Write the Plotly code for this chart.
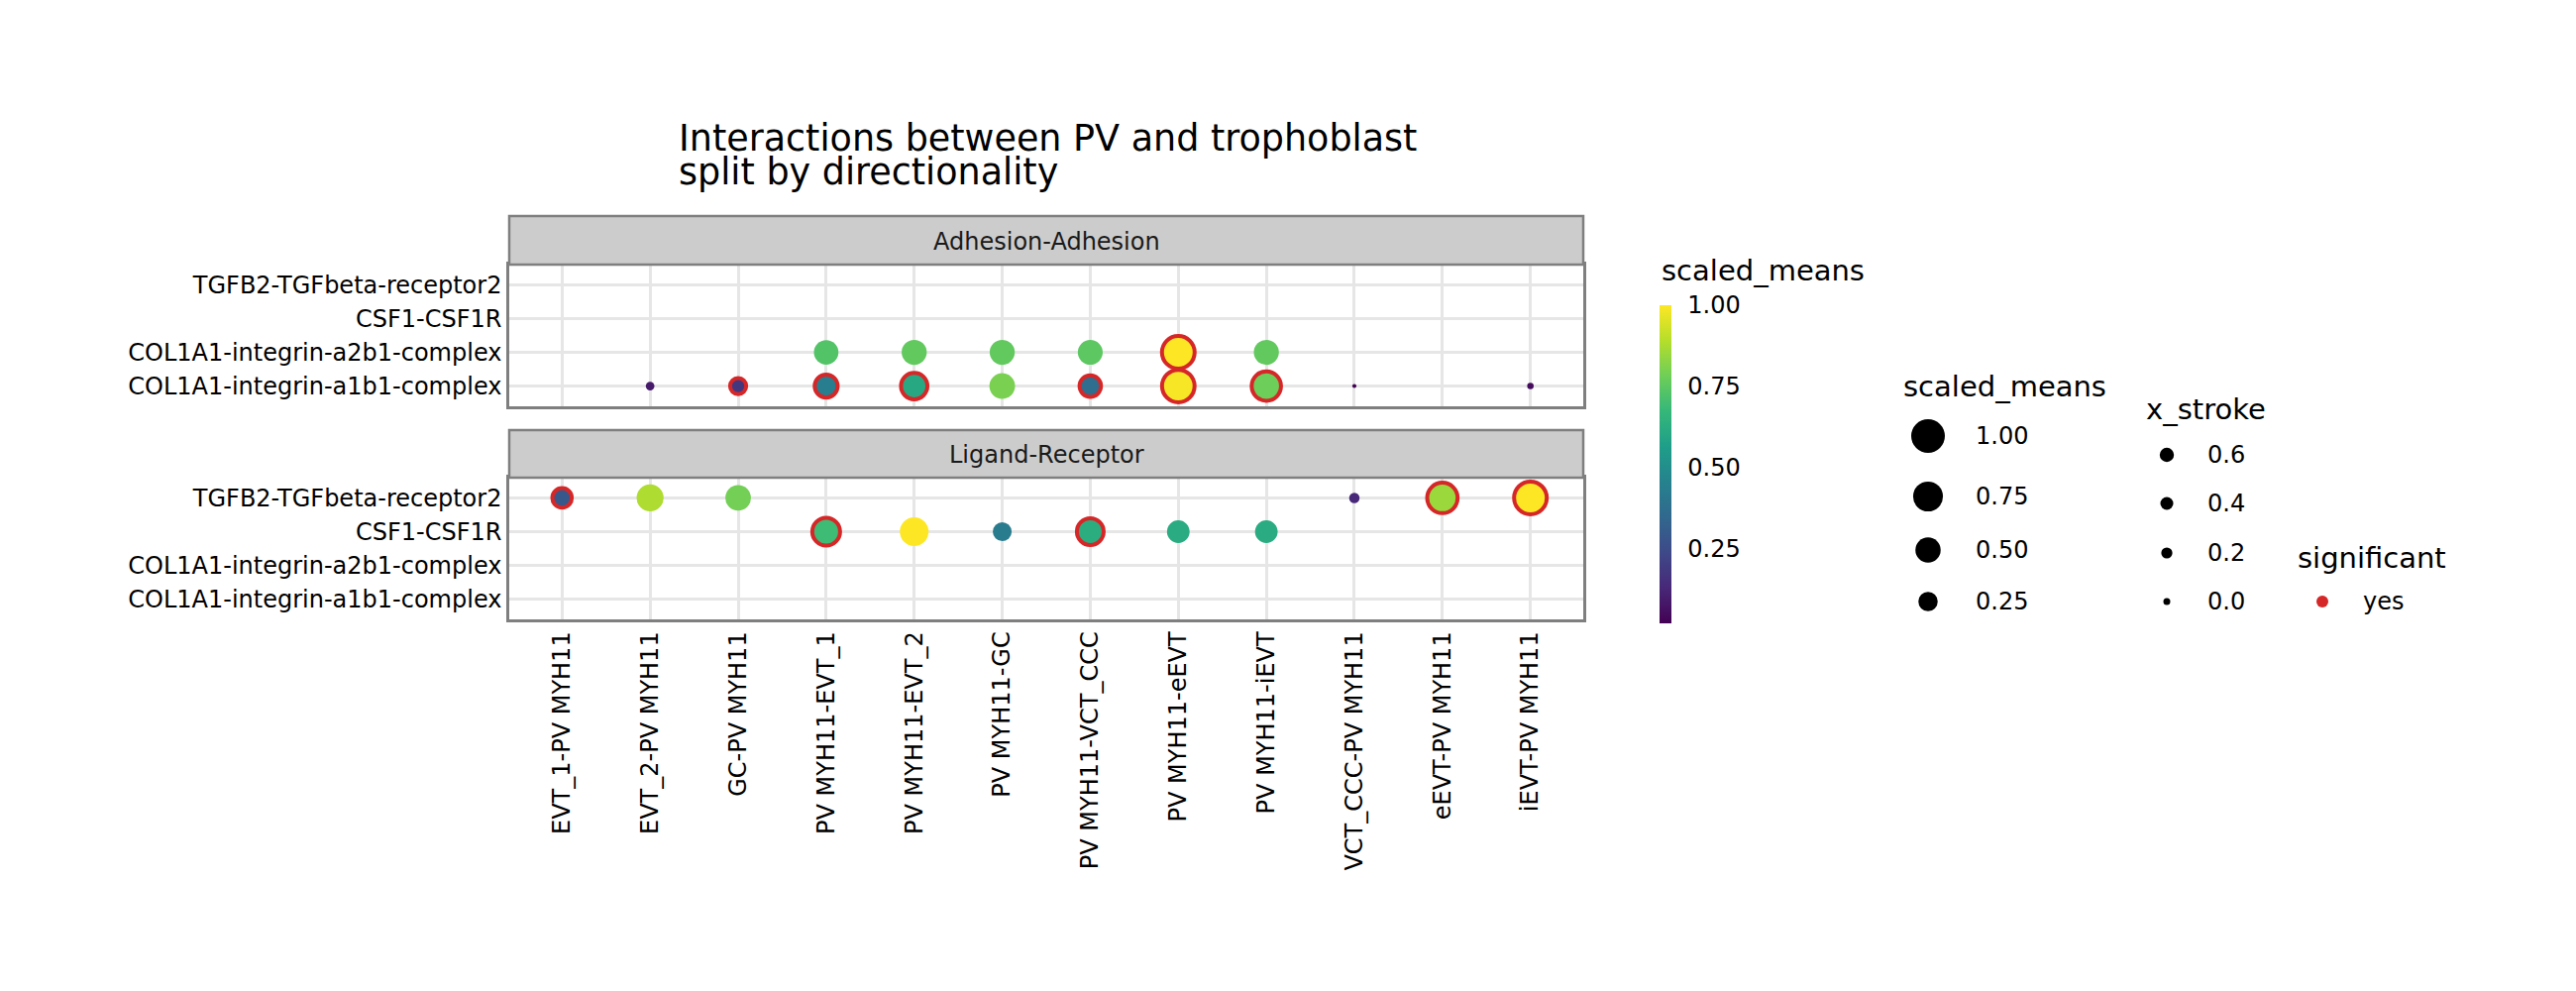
import numpy as np
import plotly.graph_objects as go

W, H = 2600, 1000

# ---------------- data ----------------
x_labels = ["EVT_1-PV MYH11", "EVT_2-PV MYH11", "GC-PV MYH11", "PV MYH11-EVT_1",
            "PV MYH11-EVT_2", "PV MYH11-GC", "PV MYH11-VCT_CCC", "PV MYH11-eEVT",
            "PV MYH11-iEVT", "VCT_CCC-PV MYH11", "eEVT-PV MYH11", "iEVT-PV MYH11"]
y_labels = ["COL1A1-integrin-a1b1-complex", "COL1A1-integrin-a2b1-complex",
            "CSF1-CSF1R", "TGFB2-TGFbeta-receptor2"]
panel_names = ["Adhesion-Adhesion", "Ligand-Receptor"]

# Adhesion-Adhesion panel
adh_pair = ["PV MYH11-EVT_1", "PV MYH11-EVT_2", "PV MYH11-GC", "PV MYH11-VCT_CCC",
            "PV MYH11-eEVT", "PV MYH11-iEVT",
            "EVT_2-PV MYH11", "GC-PV MYH11", "PV MYH11-EVT_1", "PV MYH11-EVT_2",
            "PV MYH11-GC", "PV MYH11-VCT_CCC", "PV MYH11-eEVT", "PV MYH11-iEVT",
            "VCT_CCC-PV MYH11", "iEVT-PV MYH11"]
adh_inter = ["COL1A1-integrin-a2b1-complex"] * 6 + ["COL1A1-integrin-a1b1-complex"] * 10
adh_means = [0.73, 0.76, 0.76, 0.75, 1.00, 0.76,
             0.09, 0.18, 0.44, 0.61, 0.80, 0.37, 0.99, 0.78, 0.02, 0.05]
adh_sig = [0, 0, 0, 0, 1, 0,
           0, 1, 1, 1, 0, 1, 1, 1, 0, 0]

# Ligand-Receptor panel
lr_pair = ["EVT_1-PV MYH11", "EVT_2-PV MYH11", "GC-PV MYH11", "VCT_CCC-PV MYH11",
           "eEVT-PV MYH11", "iEVT-PV MYH11",
           "PV MYH11-EVT_1", "PV MYH11-EVT_2", "PV MYH11-GC", "PV MYH11-VCT_CCC",
           "PV MYH11-eEVT", "PV MYH11-iEVT"]
lr_inter = ["TGFB2-TGFbeta-receptor2"] * 6 + ["CSF1-CSF1R"] * 6
lr_means = [0.29, 0.88, 0.79, 0.13, 0.85, 1.00,
            0.69, 1.00, 0.43, 0.63, 0.62, 0.62]
lr_sig = [1, 0, 0, 0, 1, 1,
          1, 0, 0, 1, 0, 0]

size_leg_vals = [1.00, 0.75, 0.50, 0.25]
stroke_leg_vals = [0.6, 0.4, 0.2, 0.0]
sig_leg_labels = ["yes"]
cbar_ticks = [0.25, 0.50, 0.75, 1.00]

# ---------------- style / layout constants ----------------
FONT = "DejaVu Sans"
RED = "#d62728"
GRID = "#e6e6e6"
BORDER = "#7f7f7f"
STRIP = "#cccccc"
DMAX = 29.0      # diameter (px) of a point with scaled_means = 1
RING = 4.0       # red ring width for significant points

PX_L, PX_R = 514, 1598
P1_T, P1_B = 267, 410
P2_T, P2_B = 482, 625
S1_T, S2_T = 218, 434
LEG_L, LEG_R, LEG_T, LEG_B = 1880, 2600, 400, 660


def px(xp):
    return xp / W


def py(yp):
    return 1 - yp / H


all_means = adh_means + lr_means
cmin, cmax = min(all_means), max(all_means)


def point_trace(pairs, inters, means, sig, xa, ya, showscale):
    xs = [x_labels.index(p) for p in pairs]
    ys = [y_labels.index(i) for i in inters]
    d = DMAX * np.sqrt(np.array(means))
    s = np.array(sig)
    sizes = d + RING * s
    return go.Scatter(
        x=xs, y=ys, mode="markers", xaxis=xa, yaxis=ya, showlegend=False,
        hoverinfo="skip", cliponaxis=False,
        marker=dict(
            size=sizes, sizemode="diameter", color=means, opacity=1,
            colorscale="Viridis", cmin=cmin, cmax=cmax, showscale=showscale,
            line=dict(width=RING * s, color=RED),
            colorbar=dict(
                thickness=12, thicknessmode="pixels", len=321, lenmode="pixels",
                x=px(1675), xanchor="left", y=py(629), yanchor="bottom",
                xpad=0, ypad=0, outlinewidth=0,
                tickvals=cbar_ticks, ticktext=[f"{v:.2f}" for v in cbar_ticks],
                ticks="outside", ticklen=12, tickcolor="rgba(0,0,0,0)",
                tickfont=dict(size=24, color="black", family=FONT),
            ),
        ),
    )


fig = go.Figure()
fig.add_trace(point_trace(adh_pair, adh_inter, adh_means, adh_sig, "x", "y", True))
fig.add_trace(point_trace(lr_pair, lr_inter, lr_means, lr_sig, "x2", "y2", False))

# ---------------- legend (drawn on a pixel-mapped auxiliary axis) ----------------
SIZE_KEY_X, SIZE_LBL_X = 1946, 1992
SIZE_KEY_Y = [440, 501, 555, 607]
STROKE_KEY_X, STROKE_LBL_X = 2187, 2226
STROKE_KEY_Y = [459, 508, 558, 607]
SIG_KEY_X, SIG_LBL_X = 2344, 2383
SIG_KEY_Y = [607]

leg_common = dict(xaxis="x3", yaxis="y3", mode="markers", showlegend=False,
                  hoverinfo="skip", cliponaxis=False)
fig.add_trace(go.Scatter(
    x=[SIZE_KEY_X] * len(size_leg_vals), y=SIZE_KEY_Y, **leg_common,
    marker=dict(size=DMAX * np.sqrt(np.array(size_leg_vals)) + 5, color="#000000",
                opacity=1, line=dict(width=0))))
fig.add_trace(go.Scatter(
    x=[STROKE_KEY_X] * len(stroke_leg_vals), y=STROKE_KEY_Y, **leg_common,
    marker=dict(size=7 + 9.5 * np.sqrt(np.array(stroke_leg_vals)), color="#000000",
                opacity=1, line=dict(width=0))))
fig.add_trace(go.Scatter(
    x=[SIG_KEY_X] * len(sig_leg_labels), y=SIG_KEY_Y, **leg_common,
    marker=dict(size=12, color=RED, opacity=1, line=dict(width=0))))

annotations = []


def text(xp, yp, s, size, xanchor="left", color="black"):
    annotations.append(dict(
        x=px(xp), y=py(yp), xref="paper", yref="paper", text=s, showarrow=False,
        xanchor=xanchor, yanchor="middle",
        font=dict(size=size, color=color, family=FONT)))


for v, yy in zip(size_leg_vals, SIZE_KEY_Y):
    text(SIZE_LBL_X, yy, f"{v:.2f}", 24)
for v, yy in zip(stroke_leg_vals, STROKE_KEY_Y):
    text(STROKE_LBL_X, yy, f"{v:.1f}", 24)
for lab, yy in zip(sig_leg_labels, SIG_KEY_Y):
    text(SIG_LBL_X, yy, lab, 24)

text(1675, 273, "scaled_means", 29)
text(1919, 390, "scaled_means", 29)
text(2164, 413, "x_stroke", 29)
text(2317, 563, "significant", 29)

# title
text(683, 139, "Interactions between PV and trophoblast", 36.5)
text(683, 173, "split by directionality", 36.5)

# strips
shapes = []
for name, top, bot in [(panel_names[0], S1_T, P1_T), (panel_names[1], S2_T, P2_T)]:
    shapes.append(dict(type="rect", xref="paper", yref="paper",
                       x0=px(PX_L), x1=px(PX_R), y0=py(bot), y1=py(top),
                       fillcolor=STRIP, line=dict(color=BORDER, width=2.5), layer="above"))
    text((PX_L + PX_R) / 2, (top + bot) / 2 + 1, name, 24, xanchor="center", color="#1a1a1a")

xr = [-0.6, len(x_labels) - 0.4]
yr = [-0.6, len(y_labels) - 0.4]
common_x = dict(range=xr, tickvals=list(range(len(x_labels))), ticktext=x_labels,
                showgrid=True, gridcolor=GRID, gridwidth=2.7, zeroline=False,
                showline=True, mirror=True, linecolor=BORDER, linewidth=2.5,
                ticks="", domain=[px(PX_L), px(PX_R)], fixedrange=True)
common_y = dict(range=yr, tickvals=list(range(len(y_labels))), ticktext=y_labels,
                showgrid=True, gridcolor=GRID, gridwidth=2.7, zeroline=False,
                showline=True, mirror=True, linecolor=BORDER, linewidth=2.5,
                ticks="", ticklabelstandoff=0, fixedrange=True,
                tickfont=dict(size=24, color="black", family=FONT))

fig.update_layout(
    width=W, height=H, margin=dict(l=0, r=0, t=0, b=0),
    paper_bgcolor="white", plot_bgcolor="rgba(0,0,0,0)",
    font=dict(family=FONT, color="black"),
    xaxis=dict(**common_x, anchor="y", showticklabels=False),
    yaxis=dict(**common_y, anchor="x", domain=[py(P1_B), py(P1_T)]),
    xaxis2=dict(**common_x, anchor="y2", tickangle=-90, ticklabelstandoff=0,
                tickfont=dict(size=24, color="black", family=FONT)),
    yaxis2=dict(**common_y, anchor="x2", domain=[py(P2_B), py(P2_T)]),
    xaxis3=dict(domain=[px(LEG_L), px(LEG_R)], range=[LEG_L, LEG_R], visible=False,
                fixedrange=True, anchor="y3"),
    yaxis3=dict(domain=[py(LEG_B), py(LEG_T)], range=[LEG_B, LEG_T], visible=False,
                fixedrange=True, anchor="x3"),
    annotations=annotations, shapes=shapes,
)

fig.write_html("out.html")
